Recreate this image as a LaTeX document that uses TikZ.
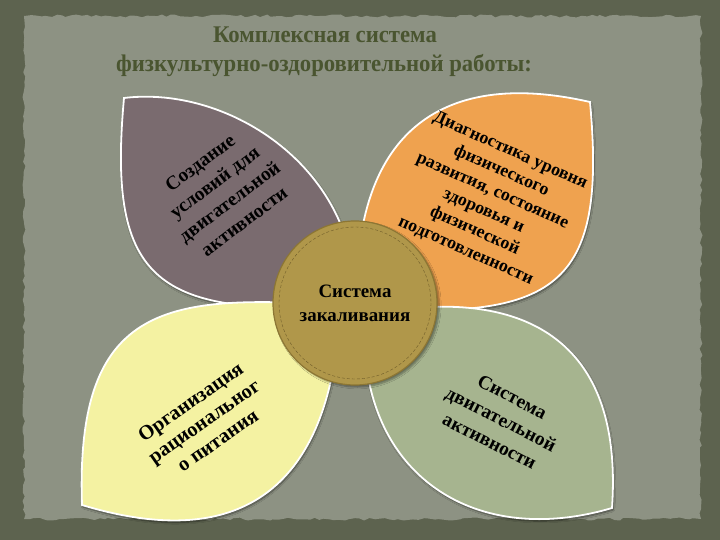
\documentclass[tikz,border=0pt]{standalone}
\usepackage{fontspec}
\setmainfont{Liberation Serif}
\newfontfamily\titlefont[FakeStretch=0.95]{Liberation Serif}
\usetikzlibrary{shadows.blur,decorations.pathmorphing}
\definecolor{framegreen}{HTML}{5D634F}
\definecolor{paper}{HTML}{8D9283}
\definecolor{titlegreen}{HTML}{4A5530}
\definecolor{leafmauve}{HTML}{7A6B6F}
\definecolor{leaforange}{HTML}{EFA24F}
\definecolor{leafyellow}{HTML}{F4F2A2}
\definecolor{leafgreen}{HTML}{A6B48F}
\definecolor{hubgold}{HTML}{B0974A}
\definecolor{hubrim}{HTML}{8C7634}

\begin{document}
\begin{tikzpicture}[x=1bp,y=-1bp]
    \tikzstyle{leaf}=[draw=white, line width=1.8bp, blur shadow={shadow blur steps=6, shadow xshift=1bp, shadow yshift=-2bp, shadow opacity=50}]
    \tikzstyle{leaftext}=[align=center, inner sep=0pt, text=black]
    \tikzstyle{titletext}=[font={\titlefont\bfseries\fontsize{24}{29}\selectfont}, text=titlegreen, anchor=base, inner sep=0pt]
    \tikzstyle{hub}=[circle, minimum size=164bp, inner sep=0pt, fill=hubgold, draw=hubrim, line width=1.2bp, align=center,
        font={\bfseries\fontsize{19}{24}\selectfont}, blur shadow={shadow blur steps=6, shadow yshift=-2bp}]
    \useasboundingbox (0,0) rectangle (720,540);
    % background
    \fill[framegreen] (0,0) rectangle (720,540);
    \fill[paper, decorate, decoration={random steps, segment length=5bp, amplitude=1.5bp}] (24,16) rectangle (701,519);
    % title
    \node[titletext] (title1) at (325,43) {Комплексная система};
    \node[titletext] (title2) at (324,72) {физкультурно-оздоровительной работы:};
    % leaves: tip, then round to the centre and back
    \path[leaf, fill=leafmauve] (124,98) .. controls (230,85) and (360,170) .. (355,305)
        .. controls (157,318) and (107,283) .. cycle;
    \path[leaf, fill=leaforange] (590,102) .. controls (437,67) and (352,137) .. (357,307)
        .. controls (557,322) and (607,287) .. cycle;
    \path[leaf, fill=leafyellow] (82,505) .. controls (75,300) and (170,295) .. (340,305)
        .. controls (335,440) and (280,565) .. cycle;
    \path[leaf, fill=leafgreen] (612,508) .. controls (625,320) and (500,288) .. (365,315)
        .. controls (355,470) and (470,550) .. cycle;
    % leaf texts
    \node[leaftext, rotate=37, font={\bfseries\fontsize{19.5}{24.5}\selectfont}] (create) at (222,192)
        {Создание\\условий для\\двигательной\\активности};
    \node[leaftext, rotate=-24, font={\bfseries\fontsize{18}{22}\selectfont}] (diagnose) at (488,201)
        {Диагностика уровня\\физического\\развития, состояние\\здоровья и\\физической\\подготовленности};
    \node[leaftext, rotate=35, font={\bfseries\fontsize{20.5}{23.7}\selectfont}] (food) at (204,421)
        {Организация\\рациональног\\о питания};
    \node[leaftext, rotate=-27, font={\bfseries\fontsize{19.5}{25}\selectfont}] (motion) at (501,419)
        {Система\\двигательной\\активности};
    % centre
    \node[hub] (hub) at (355,303) {Система\\закаливания};
    \draw[hubrim!80!black, line width=0.4bp, densely dashed] (hub.center) circle (76);
\end{tikzpicture}
\end{document}
